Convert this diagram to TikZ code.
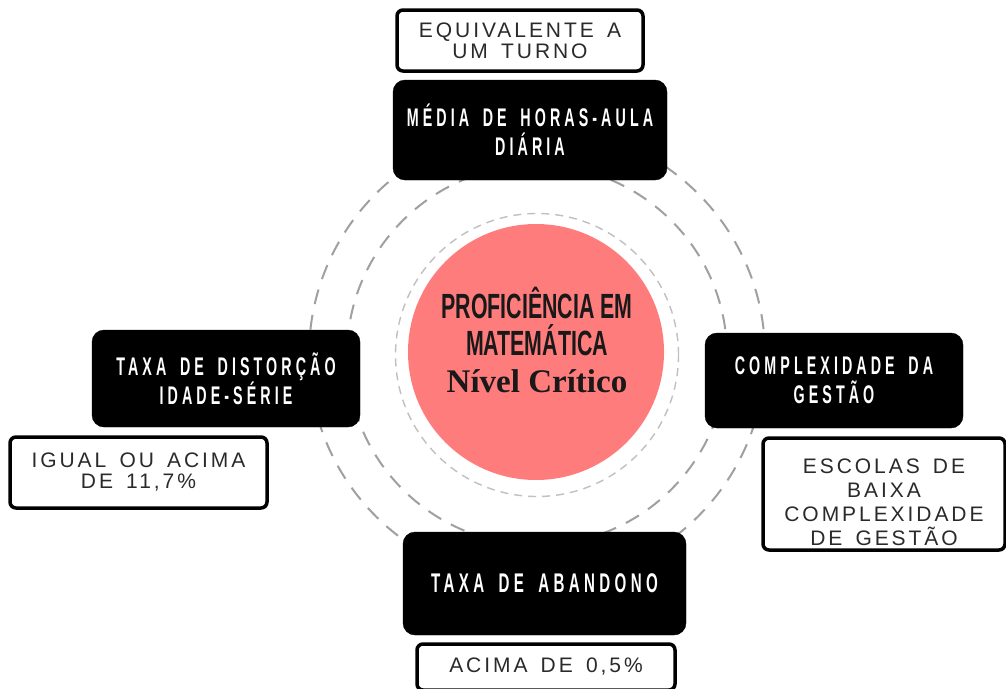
\documentclass[tikz,border=0pt]{standalone}
\usepackage{fontspec}
\setmainfont{Liberation Sans}
\newfontfamily\headfont{Liberation Sans}[FakeStretch=0.56,LetterSpace=16,WordSpace=1.7]
\newfontfamily\corefont{Liberation Sans}[FakeStretch=0.61]
\newfontfamily\notefont{Liberation Sans}[LetterSpace=14,WordSpace=1.5]
\newfontfamily\serifb{Liberation Serif}
\definecolor{corered}{HTML}{FF7C7C}
\definecolor{notegray}{HTML}{2A2A2A}
\definecolor{ringgray}{HTML}{A0A0A0}
\definecolor{ringlight}{HTML}{C0C0C0}
\begin{document}
\begin{tikzpicture}[x=1pt,y=-1pt,
  blackbox/.style={draw=black, fill=black, rounded corners=12pt, text=white, align=center,
    font=\headfont\bfseries\fontsize{25.5}{29}\selectfont, inner sep=0pt},
  notebox/.style={draw=black, line width=3.5pt, fill=white, rounded corners=6pt, text=notegray,
    align=center, font=\notefont\fontsize{21}{21}\selectfont, inner sep=0pt},
  ring/.style={draw=ringgray, line width=2pt, dash pattern=on 15pt off 11pt},
  innerring/.style={draw=ringlight, line width=1.4pt, dash pattern=on 8pt off 6pt}]
\path[use as bounding box, clip] (0,0) rectangle (1006,688);
\fill[white] (0,0) rectangle (1006,688);
\coordinate (rc) at (537,355);
% rings
\draw[ring] (rc) circle[radius=228pt];
\draw[ring] (rc) circle[radius=190pt];
\draw[innerring] (rc) circle[radius=141.5pt];
% core
\node[circle, fill=corered, minimum size=256pt, inner sep=0pt] (core) at (536,352) {};
\node[inner sep=0pt, align=center, text=black!90, font=\corefont\bfseries\fontsize{35}{37}\selectfont] (coretext) at (537,340)
  {PROFICIÊNCIA EM\\MATEMÁTICA\\{\serifb\bfseries\fontsize{33}{37}\selectfont Nível Crítico}};
% black boxes
\node[blackbox, minimum width=274pt, minimum height=100pt] (top) at (530,130) {MÉDIA DE HORAS-AULA\\DIÁRIA};
\node[blackbox, minimum width=268pt, minimum height=97pt] (left) at (226,378.5) {TAXA DE DISTORÇÃO\\IDADE-SÉRIE};
\node[blackbox, minimum width=258pt, minimum height=95pt] (right) at (834,380.5) {COMPLEXIDADE DA\\GESTÃO};
\node[blackbox, minimum width=283pt, minimum height=103pt, font=\headfont\bfseries\fontsize{27}{29}\selectfont] (bottom) at (544.5,583.5) {TAXA DE ABANDONO};
% note boxes
\node[notebox, minimum width=246pt, minimum height=61pt] (topnote) at (520,40.5) {EQUIVALENTE A\\UM TURNO};
\node[notebox, minimum width=257pt, minimum height=71pt] (leftnote) at (138.5,472.5) {IGUAL OU ACIMA\\DE 11,7\%};
\node[notebox, minimum width=242pt, minimum height=112pt, font=\notefont\fontsize{21}{24}\selectfont] (rightnote) at (884,494) {\rule{0pt}{31pt}ESCOLAS DE\\BAIXA\\COMPLEXIDADE\\DE GESTÃO};
\node[notebox, minimum width=258pt, minimum height=46pt] (bottomnote) at (546,667) {ACIMA DE 0,5\%};
\end{tikzpicture}
\end{document}
